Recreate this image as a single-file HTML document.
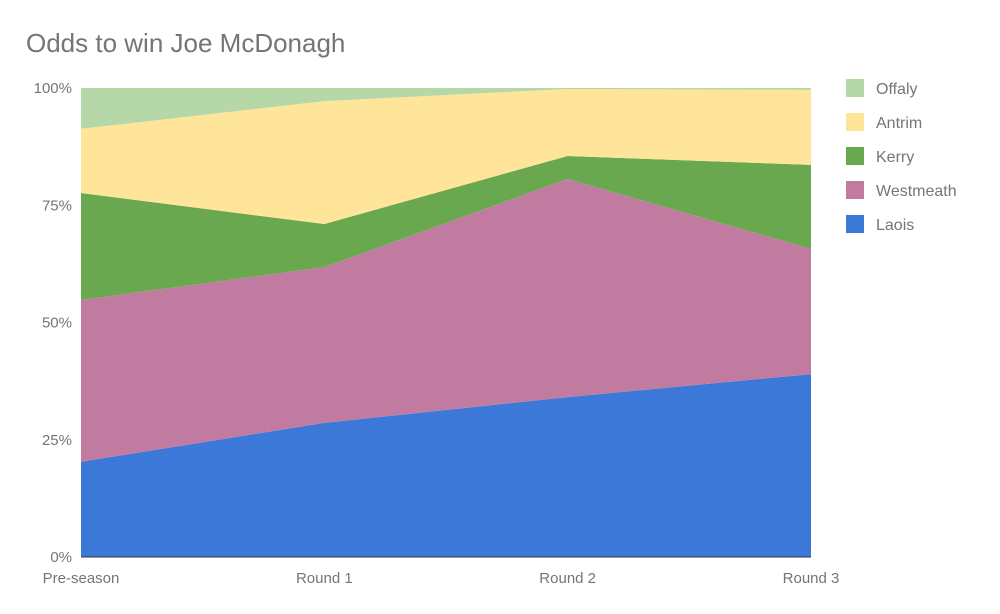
<!DOCTYPE html>
<html><head><meta charset="utf-8"><style>
body{margin:0;background:#fff;}
svg{display:block;font-family:"Liberation Sans",sans-serif;}
</style></head><body>
<svg id="chart" width="1000" height="614">
<text x="26" y="52" font-size="26" fill="#757575">Odds to win Joe McDonagh</text>
<g id="yaxis"></g>
<g id="areas"></g>
<g id="xaxis"></g>
<g id="legend"></g>
</svg>
<script>
const categories = ["Pre-season","Round 1","Round 2","Round 3"];
const laois = [20.3, 28.6, 34.1, 39.0];
const westmeath = [34.5, 33.2, 46.5, 26.7];
const kerry = [22.8, 9.2, 4.9, 17.9];
const antrim = [13.7, 26.2, 14.3, 16.0];
const offaly = [8.7, 2.8, 0.2, 0.4];
const seriesNames = ["Laois","Westmeath","Kerry","Antrim","Offaly"];
const yTicks = [0,25,50,75,100];

const NS="http://www.w3.org/2000/svg";
const colors=["#3c78d8","#c27ba0","#6aa84f","#ffe599","#b6d7a8"];
const x0=81,x1=811,yTop=88,yBot=557;
const xs=i=>x0+(x1-x0)*i/(categories.length-1);
const ys=v=>yBot-(yBot-yTop)*v/100;
function mk(t,a,p){const e=document.createElementNS(NS,t);for(const k in a)e.setAttribute(k,a[k]);p.appendChild(e);return e;}

const ya=document.getElementById('yaxis');
yTicks.forEach(t=>{
  const tx=mk('text',{x:72,y:ys(t)+5,'text-anchor':'end','font-size':15,fill:'#757575'},ya);
  
  
  tx.textContent=t+'%';
});

const all=[laois,westmeath,kerry,antrim,offaly];
const ar=document.getElementById('areas');
let base=categories.map(()=>0);
all.forEach((s,si)=>{
  const top=base.map((b,i)=>b+s[i]);
  let d='';
  top.forEach((v,i)=>{d+=(i?'L':'M')+xs(i)+' '+ys(v)+' ';});
  for(let i=base.length-1;i>=0;i--)d+='L'+xs(i)+' '+ys(base[i])+' ';
  const p=mk('path',{d:d+'Z',fill:colors[si]},ar);
  
  
  base=top;
});
const bl=mk('line',{x1:x0,x2:x1,y1:yBot,y2:yBot,stroke:'#333','stroke-width':1},ar);



const xa=document.getElementById('xaxis');
categories.forEach((c,i)=>{
  const t=mk('text',{x:xs(i),y:583,'text-anchor':'middle','font-size':15,fill:'#757575'},xa);
  
  
  t.textContent=c;
});

const lg=document.getElementById('legend');
for(let k=4;k>=0;k--){
  const row=4-k, y=88+row*34;
  const g=mk('g',{},lg);
  
  
  mk('rect',{x:846,y:y-9,width:18,height:18,fill:colors[k]},g);
  const t=mk('text',{x:876,y:y+6,'font-size':16,fill:'#757575'},g);
  t.textContent=seriesNames[k];
}
</script>
</body></html>
